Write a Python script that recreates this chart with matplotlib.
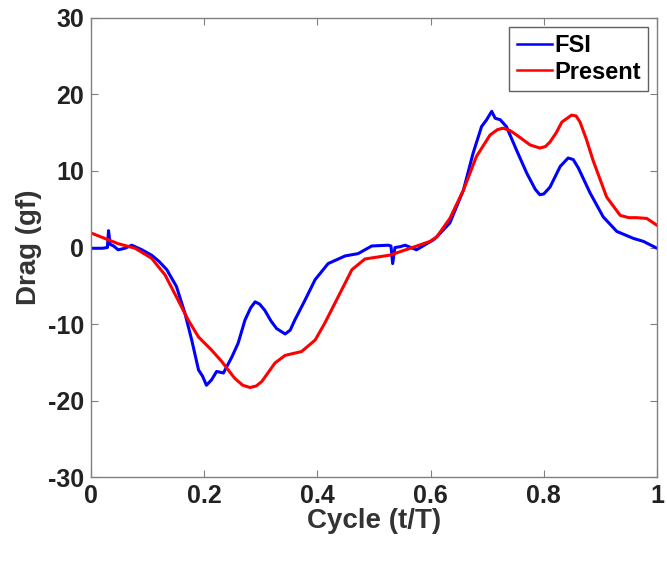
import numpy as np
import matplotlib; matplotlib.use("Agg"); import matplotlib.pyplot as plt

# FSI drag (blue)
fsi_t = [0.0, 0.02, 0.029, 0.031, 0.034, 0.04, 0.048, 0.06, 0.072, 0.09, 0.107, 0.12, 0.134,
         0.151, 0.166, 0.178, 0.190, 0.197, 0.204, 0.213, 0.222, 0.234, 0.249, 0.260, 0.272,
         0.282, 0.290, 0.298, 0.307, 0.318, 0.328, 0.343, 0.352, 0.360, 0.378, 0.396, 0.419,
         0.449, 0.472, 0.496, 0.525, 0.530, 0.533, 0.537, 0.546, 0.555, 0.575, 0.605, 0.611,
         0.634, 0.658, 0.675, 0.690, 0.699, 0.708, 0.714, 0.723, 0.734, 0.752, 0.770, 0.785,
         0.793, 0.800, 0.811, 0.829, 0.843, 0.852, 0.861, 0.882, 0.905, 0.929, 0.958, 0.976,
         1.0]
fsi_d = [-0.1, -0.1, 0.0, 2.2, 0.4, 0.2, -0.3, -0.1, 0.3, -0.3, -1.0, -1.8, -2.9,
         -5.1, -8.6, -12.1, -16.0, -16.8, -18.0, -17.3, -16.2, -16.4, -14.3, -12.5, -9.5,
         -7.9, -7.1, -7.4, -8.2, -9.6, -10.6, -11.3, -10.8, -9.5, -6.9, -4.2, -2.1,
         -1.1, -0.8, 0.2, 0.3, 0.2, -2.1, 0.0, 0.1, 0.3, -0.3, 1.0, 1.4,
         3.2, 7.5, 12.3, 15.8, 16.7, 17.8, 16.9, 16.7, 15.8, 12.7, 9.7, 7.6,
         6.9, 7.0, 7.9, 10.6, 11.7, 11.5, 10.4, 7.1, 4.0, 2.1, 1.2, 0.8,
         -0.1]

# Present model drag (red)
pre_t = [0.0, 0.048, 0.078, 0.107, 0.131, 0.154, 0.172, 0.190, 0.213, 0.231, 0.254, 0.268,
         0.281, 0.292, 0.302, 0.325, 0.343, 0.372, 0.396, 0.413, 0.437, 0.461, 0.484, 0.528,
         0.564, 0.599, 0.611, 0.634, 0.658, 0.681, 0.705, 0.718, 0.728, 0.740, 0.752, 0.776,
         0.793, 0.803, 0.811, 0.822, 0.832, 0.849, 0.857, 0.864, 0.875, 0.887, 0.911, 0.935,
         0.950, 0.964, 0.982, 1.0]
pre_d = [1.9, 0.5, -0.1, -1.4, -3.6, -6.9, -9.5, -11.7, -13.4, -14.9, -17.1, -18.0,
         -18.3, -18.1, -17.5, -15.1, -14.1, -13.6, -12.1, -9.9, -6.4, -2.9, -1.5, -1.0,
         -0.1, 0.8, 1.4, 3.8, 7.5, 11.9, 14.7, 15.4, 15.6, 15.3, 14.7, 13.4,
         13.0, 13.2, 13.8, 15.0, 16.4, 17.3, 17.2, 16.4, 14.2, 11.4, 6.6, 4.2,
         3.9, 3.9, 3.8, 2.9]

plt.rcParams["font.family"] = ["Liberation Sans", "DejaVu Sans"]
plt.rcParams["font.weight"] = "bold"
plt.rcParams["axes.unicode_minus"] = False

fig = plt.figure(figsize=(6.67, 5.62), dpi=100)
ax = fig.add_axes([0.1364, 0.1512, 0.8486, 0.8168])
ax.plot(fsi_t, fsi_d, color="#0000ff", lw=2.2, label="FSI")
ax.plot(pre_t, pre_d, color="#ff0000", lw=2.2, label="Present")
ax.set_xlim(0, 1); ax.set_ylim(-30, 30)
ax.set_xticks([0, 0.2, 0.4, 0.6, 0.8, 1])
ax.set_xticklabels(["0", "0.2", "0.4", "0.6", "0.8", "1"])
ax.set_yticks(range(-30, 31, 10))
ax.tick_params(direction="in", top=True, right=True, length=5, color="#808080",
               labelsize=18, pad=5)
for s in ax.spines.values():
    s.set_color("#808080"); s.set_linewidth(1.0)
ax.set_xlabel("Cycle (t/T)", fontsize=20, fontweight="bold", labelpad=0, color="#333333")
ax.set_ylabel("Drag (gf)", fontsize=20, fontweight="bold", labelpad=4, color="#333333")
for lab in ax.get_xticklabels() + ax.get_yticklabels():
    lab.set_color("#222222")
leg = ax.legend(loc="upper right", fontsize=17, fancybox=False, framealpha=1,
                edgecolor="#606060", handlelength=1.5, borderpad=0.3, labelspacing=0.15,
                handletextpad=0.1, borderaxespad=0.38)
leg.get_frame().set_linewidth(1.0)
for h in leg.get_lines():
    h.set_linewidth(1.8)
fig.savefig("out.png", dpi=100)
